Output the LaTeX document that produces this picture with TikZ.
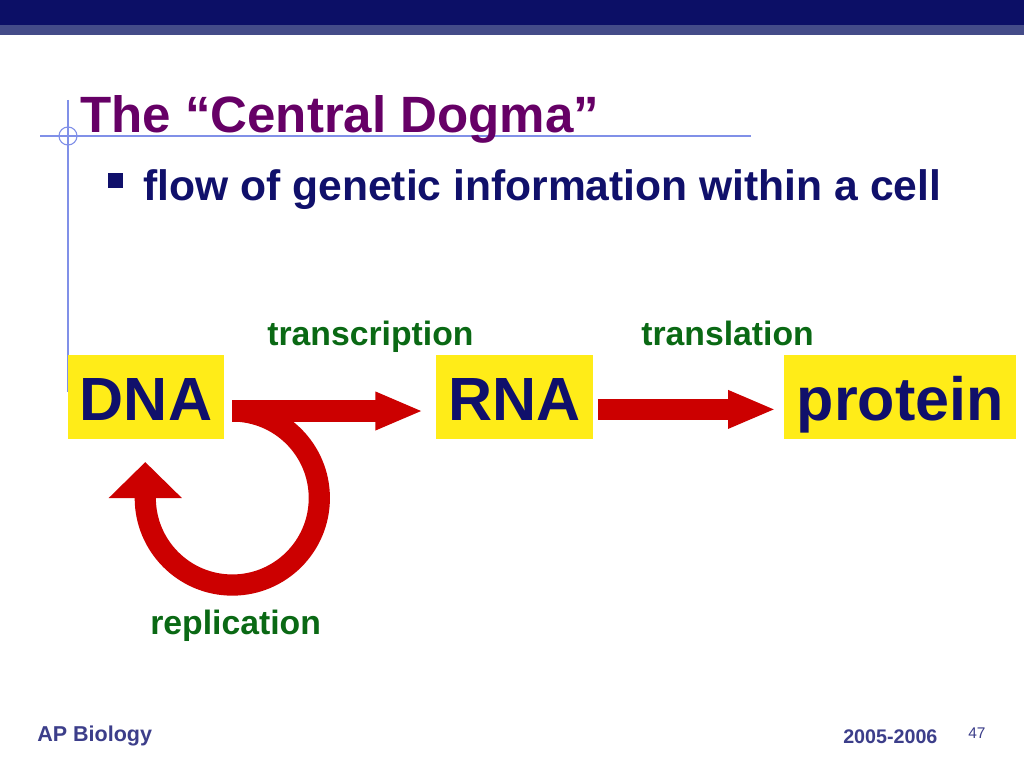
\documentclass[tikz,border=0pt]{standalone}
\usepackage{fontspec}
\setmainfont{Liberation Sans}
\usepackage{xcolor}
\usetikzlibrary{arrows.meta,positioning,calc}
\definecolor{barnavy}{RGB}{12,15,102}
\definecolor{barband}{RGB}{68,75,136}
\definecolor{titlepurple}{RGB}{102,0,102}
\definecolor{inknavy}{RGB}{16,16,107}
\definecolor{labgreen}{RGB}{10,105,20}
\definecolor{arrred}{RGB}{204,0,0}
\definecolor{hiyellow}{RGB}{255,236,24}
\definecolor{guideblue}{RGB}{128,144,232}
\definecolor{footnavy}{RGB}{60,62,138}
\tikzset{
  word/.style  = {rectangle, fill=hiyellow, inner sep=0pt,
                  minimum height=2.1cm, text height=1.15cm, text depth=0pt,
                  font=\fontsize{43.4}{46}\selectfont\bfseries, text=inknavy},
  lbl/.style   = {inner sep=0pt, anchor=base west,
                  font=\fontsize{24}{28}\selectfont\bfseries, text=labgreen},
  foot/.style  = {inner sep=0pt, anchor=base west, text=footnavy},
  flow/.style  = {line width=0.53cm, draw=arrred,
                  -{Triangle[length=1.2cm, width=0.875cm]}},
  guide/.style = {draw=guideblue, line width=0.8pt},
}
\begin{document}
\begin{tikzpicture}[x=0.025cm, y=-0.025cm]

\useasboundingbox (0,0) rectangle (1024,768);
\fill[white] (0,0) rectangle (1024,768);

%% ── Slide frame ───────────────────────────────────────────────────────────
\fill[barnavy] (0,0) rectangle (1024,25);
\fill[barband] (0,25) rectangle (1024,35);
\draw[guide] (68,100) -- (68,392);
\draw[guide] (40,136) -- (751,136);
\draw[guide] (68,136) circle[radius=9];

%% ── Title and bullet ──────────────────────────────────────────────────────
\node[inner sep=0pt, anchor=base west, text=titlepurple,
      font=\fontsize{36.3}{40}\selectfont\bfseries] (title) at (80,133)
  {The “Central Dogma”};
\fill[inknavy] (108,173) rectangle (123,188);
\node[inner sep=0pt, anchor=base west, text=inknavy,
      font=\fontsize{30.3}{34}\selectfont\bfseries] (point) at (143,200)
  {flow of genetic information within a cell};

%% ── Molecules ─────────────────────────────────────────────────────────────
\node[word, minimum width=3.9cm] (dna) at (146,397) {DNA};
\node[word, minimum width=3.925cm, right=5.275cm of dna] (rna) {RNA};
\node[word, minimum width=5.8cm, right=4.775cm of rna] (prot) {protein};

%% ── Process labels ────────────────────────────────────────────────────────
\node[lbl] (tscr) at (267,345) {transcription};
\node[lbl] (tsln) at (641,345) {translation};
\node[lbl] (repl) at (150,634) {replication};

%% ── Arrows ────────────────────────────────────────────────────────────────
\coordinate (loop) at ([xshift=0.2cm, yshift=-0.35cm]dna.east);
\draw[flow, -{Triangle[length=0.9cm, width=1.775cm]}]
  (loop) arc[start angle=90, end angle=-180, radius=2.175cm] -- ++(0cm,0.9cm);
\draw[flow] (loop) -- ([xshift=-0.3cm, yshift=-0.35cm]rna.west);
\draw[flow] ([xshift=0.125cm, yshift=-0.31cm]rna.east)
  -- ([xshift=-0.2cm, yshift=-0.31cm]prot.west);

%% ── Footer ────────────────────────────────────────────────────────────────
\node[foot, font=\fontsize{15.3}{18}\selectfont\bfseries] (course) at (37,741) {AP Biology};
\node[foot, font=\fontsize{14}{17}\selectfont\bfseries] (year) at (843,743) {2005-2006};
\node[foot, font=\fontsize{11}{13}\selectfont] (page) at (968,738) {47};

\end{tikzpicture}
\end{document}
